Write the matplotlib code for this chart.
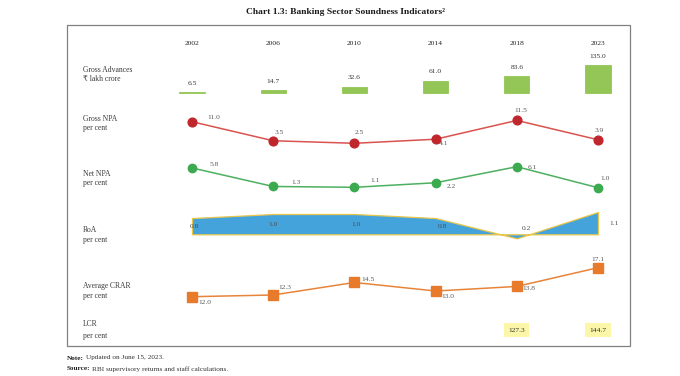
import matplotlib
matplotlib.use('Agg')
import matplotlib.pyplot as plt
from matplotlib.patches import Rectangle

# ---------------- data ----------------
years = ['2002', '2006', '2010', '2014', '2018', '2023']
gross_adv = [6.5, 14.7, 32.6, 61.0, 83.6, 135.0]
gross_npa = [11.0, 3.5, 2.5, 4.1, 11.5, 3.9]
net_npa = [5.8, 1.3, 1.1, 2.2, 6.1, 1.0]
roa = [0.8, 1.0, 1.0, 0.8, -0.2, 1.1]
roa_labels = ['0.8', '1.0', '1.0', '0.8', '0.2', '1.1']
crar = [12.0, 12.3, 14.5, 13.0, 13.8, 17.1]
lcr_years = ['2018', '2023']
lcr = [127.3, 144.7]

row_labels = [('Gross Advances', '₹ lakh crore'), ('Gross NPA', 'per cent'),
              ('Net NPA', 'per cent'), ('RoA', 'per cent'),
              ('Average CRAR', 'per cent'), ('LCR', 'per cent')]

# ---------------- styles ----------------
SERIF = ['Liberation Serif', 'DejaVu Serif']
plt.rcParams['font.family'] = SERIF
W, H = 680, 376
BOX_L, BOX_R, BOX_T, BOX_B = 67, 630, 25, 346
X0, UNIT = 192, 81.2
XLIM = (-(X0 - BOX_L) / UNIT, (BOX_R - X0) / UNIT)
VAL_COL = '#595959'
LAB_COL = '#3a3a3a'
FS_VAL = 5.4
FS_LAB = 5.5

fig = plt.figure(figsize=(W / 100, H / 100), dpi=100)
fig.patch.set_facecolor('white')


def px_axes(y_top, y_bot):
    ax = fig.add_axes([BOX_L / W, 1 - y_bot / H, (BOX_R - BOX_L) / W, (y_bot - y_top) / H])
    ax.set_xlim(*XLIM)
    ax.axis('off')
    return ax


def row_axes(y_top, y_bot, v_ref, py_ref, ppu):
    ax = px_axes(y_top, y_bot)
    ax.set_ylim(v_ref - (y_bot - py_ref) / ppu, v_ref + (py_ref - y_top) / ppu)
    return ax


x = list(range(len(years)))

# Outer box
frame = fig.add_axes([0, 0, 1, 1])
frame.set_xlim(0, W)
frame.set_ylim(H, 0)
frame.axis('off')
frame.add_patch(Rectangle((BOX_L, BOX_T), BOX_R - BOX_L, BOX_B - BOX_T,
                          fill=False, edgecolor='#808080', linewidth=0.9))

# Title
fig.text(345 / W, 1 - 12 / H, 'Chart 1.3: Banking Sector Soundness Indicators²',
         ha='center', va='center', fontsize=6.8, fontweight='bold', color='#1a1a1a')

# Year header
hdr = px_axes(35, 50)
hdr.set_ylim(0, 1)
for i, yr in enumerate(years):
    hdr.text(i, 0.45, yr, ha='center', va='center', fontsize=FS_VAL, color='#222222')

# Row labels
label_pos = [(69.5, 79), (119, 128.5), (173.5, 183.3), (230, 240), (286, 295.5), (323.5, 336)]
for (l1, l2), (y1, y2) in zip(row_labels, label_pos):
    fig.text(83 / W, 1 - y1 / H, l1, ha='left', va='center', fontsize=FS_LAB, color=LAB_COL)
    fig.text(83 / W, 1 - y2 / H, l2, ha='left', va='center', fontsize=FS_LAB, color=LAB_COL)

# Gross advances bars
ax = row_axes(50, 95, 0.0, 93.3, 0.208)
ax.bar(x, gross_adv, width=0.31, color='#93c656', edgecolor='#93c656', linewidth=0.6)
for xi, v in zip(x, gross_adv):
    ax.annotate(f'{v:.1f}', (xi, v), xytext=(0, 6.3), textcoords='offset points',
                ha='center', va='center', fontsize=FS_VAL, color='#333333')

# Gross NPA
ax = row_axes(100, 155, 11.0, 121.7, 2.54)
ax.plot(x, gross_npa, color='#d9534f', linewidth=1.1, marker='o', markersize=6.3,
        markerfacecolor='#c0272d', markeredgecolor='#c0272d', zorder=3)
gnpa_off = [(22, 4.4), (6.4, 8.3), (5, 10.6), (8.4, -4.3), (4, 10), (1, 9.3)]
for xi, v, (dx, dy) in zip(x, gross_npa, gnpa_off):
    ax.annotate(f'{v:.1f}', (xi, v), xytext=(dx * 0.72, dy * 0.72), textcoords='offset points',
                ha='center', va='center', fontsize=FS_VAL, color=VAL_COL)

# Net NPA
ax = row_axes(155, 200, 6.1, 166.7, 4.12)
ax.plot(x, net_npa, color='#4cb060', linewidth=1.1, marker='o', markersize=6.0,
        markerfacecolor='#3caa4e', markeredgecolor='#3caa4e', zorder=3)
nnpa_off = [(22, 3.3), (23, 4), (21, 6.6), (16, -3.7), (16, -0.6), (7, 9.4)]
for xi, v, (dx, dy) in zip(x, net_npa, nnpa_off):
    ax.annotate(f'{v:.1f}', (xi, v), xytext=(dx * 0.72, dy * 0.72), textcoords='offset points',
                ha='center', va='center', fontsize=FS_VAL, color=VAL_COL)

# RoA area
ax = row_axes(203, 250, 0.0, 234.3, 20.3)
ax.fill_between(x, roa, 0, color='#45a3dc', edgecolor='#e8c64a', linewidth=0.9)
roa_off = [(2, -8), (0, -10), (2, -10), (7, -8), (10, 10), (16, -12)]
for xi, v, lab, (dx, dy) in zip(x, roa, roa_labels, roa_off):
    ax.annotate(lab, (xi, v), xytext=(dx * 0.72, dy * 0.72), textcoords='offset points',
                ha='center', va='center', fontsize=FS_VAL, color='#4d4d4d')

# Average CRAR
ax = row_axes(255, 310, 12.0, 296.7, 5.69)
ax.plot(x, crar, color='#e8843a', linewidth=1.1, marker='s', markersize=7.8,
        markerfacecolor='#e87a2c', markeredgecolor='#e87a2c', zorder=3)
crar_off = [(13, -6), (12, 7.6), (14, 3.4), (12, -5), (12, -2.3), (0, 8.4)]
for xi, v, (dx, dy) in zip(x, crar, crar_off):
    ax.annotate(f'{v:.1f}', (xi, v), xytext=(dx * 0.72, dy * 0.72), textcoords='offset points',
                ha='center', va='center', fontsize=FS_VAL, color=VAL_COL)

# LCR
ax = px_axes(315, 345)
ax.set_ylim(0, 1)
for yr, v in zip(lcr_years, lcr):
    xi = years.index(yr)
    ax.text(xi, 0.5, f'{v:.1f}', ha='center', va='center', fontsize=FS_VAL, color='#333333',
            bbox=dict(boxstyle='square,pad=0.55', facecolor='#fbf6a8', edgecolor='none'))

# Notes
t1 = fig.text(67 / W, 1 - 358 / H, 'Note:', ha='left', va='center', fontsize=5.2,
              fontweight='bold', color='#222222')
t2 = fig.text(67 / W, 1 - 369 / H, 'Source:', ha='left', va='center', fontsize=5.2,
              fontweight='bold', color='#222222')
fig.canvas.draw()
for t, rest, y in [(t1, 'Updated on June 15, 2023.', 358),
                   (t2, 'RBI supervisory returns and staff calculations.', 369)]:
    bb = t.get_window_extent(renderer=fig.canvas.get_renderer())
    fig.text((bb.x1 + 2) / W, 1 - y / H, rest, ha='left', va='center', fontsize=5.2, color='#333333')

fig.savefig('out.png', dpi=100, facecolor='white')
